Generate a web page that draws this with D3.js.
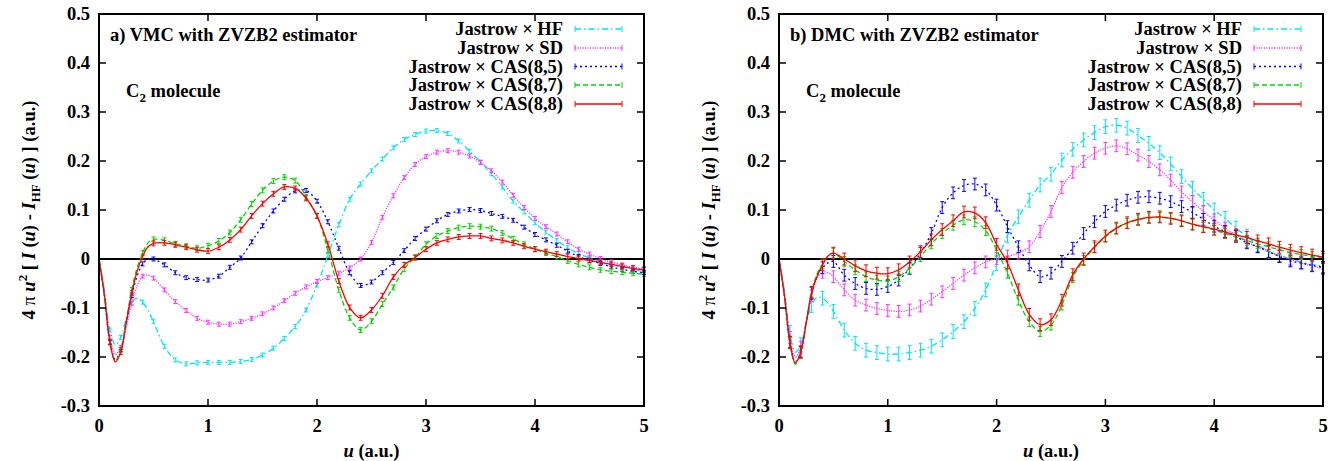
<!DOCTYPE html>
<html><head><meta charset="utf-8">
<script src="https://cdn.jsdelivr.net/npm/d3@7"></script>
<style>
body{margin:0;background:#fff}
svg text{font-family:"Liberation Serif","DejaVu Serif",serif;font-weight:bold;fill:#000}
</style></head><body>
<svg id="chart" width="1337" height="461" font-family="Liberation Serif, DejaVu Serif, serif"></svg>
<script>
const uValues = [0,0.05,0.1,0.15,0.2,0.25,0.3,0.35,0.4,0.45,0.5,
 0.6,0.7,0.8,0.9,1.0,1.1,1.2,1.3,1.4,1.5,1.6,1.7,1.8,1.9,2.0,2.1,2.2,2.3,2.4,2.5,
 2.6,2.7,2.8,2.9,3.0,3.1,3.2,3.3,3.4,3.5,3.6,3.7,3.8,3.9,4.0,4.1,4.2,4.3,4.4,4.5,
 4.6,4.7,4.8,4.9,5.0];

const seriesNames = ["Jastrow \u00d7 HF","Jastrow \u00d7 SD","Jastrow \u00d7 CAS(8,5)","Jastrow \u00d7 CAS(8,7)","Jastrow \u00d7 CAS(8,8)"];
const panelTitles = ["a) VMC with ZVZB2 estimator","b) DMC with ZVZB2 estimator"];
const xTicks = [0,1,2,3,4,5];
const xTickLabels = ["0","1","2","3","4","5"];
const yTicks = [-0.3,-0.2,-0.1,0,0.1,0.2,0.3,0.4,0.5];
const yTickLabels = ["-0.3","-0.2","-0.1","0","0.1","0.2","0.3","0.4","0.5"];

// VMC panel
const vmcHF = [0,-0.065,-0.145,-0.175,-0.16,-0.12,-0.09,-0.08,-0.088,-0.105,-0.128,
 -0.178,-0.206,-0.214,-0.212,-0.211,-0.211,-0.211,-0.209,-0.205,-0.196,-0.182,-0.162,-0.138,-0.104,-0.053,
 0.007,0.070,0.122,0.153,0.180,0.204,0.227,0.244,0.254,0.261,0.262,0.256,0.241,0.220,0.198,
 0.174,0.147,0.118,0.096,0.074,0.055,0.038,0.023,0.011,0.002,-0.005,-0.011,-0.016,-0.021,-0.025];
const vmcSD = [0,-0.07,-0.16,-0.195,-0.18,-0.14,-0.09,-0.055,-0.035,-0.033,-0.039,
 -0.063,-0.087,-0.105,-0.121,-0.129,-0.133,-0.133,-0.128,-0.121,-0.112,-0.100,-0.085,-0.070,-0.057,-0.046,
 -0.038,-0.029,-0.018,0.000,0.034,0.085,0.129,0.166,0.193,0.209,0.218,0.221,0.218,0.210,0.197,
 0.180,0.157,0.130,0.105,0.083,0.066,0.051,0.035,0.020,0.010,0.001,-0.006,-0.012,-0.017,-0.020];
const vmcCAS85 = [0,-0.075,-0.17,-0.205,-0.185,-0.13,-0.075,-0.035,-0.01,0.0,0.0,
 -0.012,-0.028,-0.038,-0.042,-0.043,-0.035,-0.017,0.002,0.035,0.068,0.098,0.122,0.139,0.140,0.118,
 0.076,0.022,-0.028,-0.054,-0.047,-0.028,-0.007,0.017,0.042,0.061,0.078,0.091,0.098,0.101,0.099,
 0.093,0.087,0.079,0.065,0.050,0.039,0.028,0.016,0.005,-0.003,-0.009,-0.016,-0.021,-0.025,-0.028];
const vmcCAS87 = [0,-0.075,-0.17,-0.207,-0.185,-0.125,-0.063,-0.018,0.012,0.033,0.040,
 0.038,0.031,0.026,0.022,0.027,0.037,0.054,0.080,0.112,0.140,0.159,0.167,0.160,0.127,0.088,
 0.018,-0.063,-0.120,-0.145,-0.127,-0.092,-0.058,-0.020,0.003,0.030,0.047,0.057,0.064,0.067,0.066,
 0.062,0.053,0.041,0.030,0.020,0.012,0.005,-0.004,-0.011,-0.017,-0.022,-0.025,-0.027,-0.029,-0.031];
const vmcCAS88 = [0,-0.075,-0.17,-0.21,-0.19,-0.13,-0.07,-0.025,0.005,0.025,0.032,
 0.033,0.029,0.024,0.019,0.016,0.024,0.039,0.060,0.088,0.113,0.133,0.147,0.144,0.124,0.088,
 0.030,-0.045,-0.099,-0.120,-0.104,-0.075,-0.037,-0.012,0.003,0.020,0.033,0.040,0.045,0.047,0.047,
 0.042,0.038,0.033,0.026,0.020,0.015,0.010,0.005,0.001,-0.003,-0.007,-0.011,-0.015,-0.019,-0.022];

// DMC panel
const dmcHF = [0,-0.065,-0.15,-0.19,-0.175,-0.13,-0.095,-0.078,-0.08,-0.09,-0.107,
 -0.145,-0.172,-0.186,-0.191,-0.194,-0.194,-0.191,-0.186,-0.178,-0.165,-0.148,-0.128,-0.101,-0.063,-0.009,
 0.048,0.086,0.120,0.151,0.173,0.202,0.224,0.243,0.258,0.270,0.273,0.267,0.252,0.236,0.217,
 0.194,0.168,0.144,0.122,0.100,0.083,0.063,0.046,0.029,0.016,0.007,0.000,-0.006,-0.011,-0.014];
const dmcSD = [0,-0.07,-0.16,-0.2,-0.18,-0.13,-0.075,-0.04,-0.027,-0.028,-0.036,
 -0.063,-0.084,-0.094,-0.101,-0.105,-0.107,-0.104,-0.096,-0.082,-0.067,-0.050,-0.033,-0.018,-0.006,0.001,
 0.006,0.012,0.025,0.056,0.097,0.146,0.177,0.199,0.216,0.226,0.231,0.225,0.212,0.199,0.182,
 0.161,0.137,0.117,0.097,0.080,0.063,0.049,0.035,0.025,0.015,0.007,0.000,-0.008,-0.014,-0.020];
const dmcCAS85 = [0,-0.075,-0.17,-0.21,-0.19,-0.13,-0.07,-0.035,-0.018,-0.008,-0.005,
 -0.033,-0.050,-0.060,-0.062,-0.056,-0.043,-0.019,0.012,0.052,0.105,0.135,0.150,0.153,0.141,0.110,
 0.066,0.025,-0.012,-0.036,-0.029,-0.005,0.022,0.052,0.076,0.097,0.110,0.120,0.126,0.127,0.124,
 0.117,0.107,0.095,0.081,0.067,0.056,0.046,0.033,0.025,0.015,0.005,-0.004,-0.008,-0.013,-0.017];
const dmcCAS87 = [0,-0.075,-0.17,-0.215,-0.19,-0.13,-0.068,-0.03,-0.01,0.006,0.012,
 -0.005,-0.022,-0.036,-0.043,-0.045,-0.036,-0.019,0.005,0.031,0.052,0.069,0.080,0.076,0.058,0.018,
 -0.029,-0.084,-0.128,-0.148,-0.135,-0.094,-0.038,-0.003,0.023,0.045,0.062,0.073,0.080,0.084,0.085,
 0.083,0.078,0.071,0.065,0.059,0.052,0.045,0.038,0.031,0.025,0.019,0.013,0.009,0.005,0.001];
const dmcCAS88 = [0,-0.075,-0.17,-0.212,-0.19,-0.13,-0.068,-0.035,-0.012,0.006,0.012,
 0.000,-0.014,-0.024,-0.029,-0.030,-0.022,-0.006,0.015,0.039,0.060,0.078,0.096,0.094,0.074,0.030,
 -0.008,-0.063,-0.113,-0.134,-0.124,-0.084,-0.032,0.000,0.025,0.047,0.063,0.074,0.081,0.085,0.086,
 0.083,0.078,0.071,0.066,0.061,0.055,0.049,0.044,0.037,0.031,0.024,0.018,0.013,0.008,0.004];

const vmcErrors = [0.004,0.004,0.004,0.005,0.005];
const dmcErrors = [0.014,0.012,0.012,0.010,0.012];

const colors = ["#00e6ee","#ff30ff","#0000ff","#00d800","#ff0000"];
const dashes = ["6,3,1.5,3","1.2,1.3","2,3","5,3",null];

const panels = [
  {x0:99, x1:644, title:panelTitles[0], series:[vmcHF,vmcSD,vmcCAS85,vmcCAS87,vmcCAS88], err:vmcErrors},
  {x0:779, x1:1323, title:panelTitles[1], series:[dmcHF,dmcSD,dmcCAS85,dmcCAS87,dmcCAS88], err:dmcErrors}
];
const yTop = 14, yBot = 406;
const FONT = "'Liberation Serif', 'DejaVu Serif', serif";
const svg = d3.select("#chart");

function txt(sel){ return sel.append("text").attr("font-family",FONT).attr("font-weight","bold").attr("font-size",18.5); }

panels.forEach(p => {
  const x = d3.scaleLinear().domain([0,5]).range([p.x0,p.x1]);
  const y = d3.scaleLinear().domain([-0.3,0.5]).range([yBot,yTop]);
  const g = svg.append("g");

  g.append("line").attr("x1",x(0)).attr("x2",x(5)).attr("y1",y(0)).attr("y2",y(0))
    .attr("stroke","#000").attr("stroke-width",2);

  const line = d3.line().x(d=>x(d[0])).y(d=>y(d[1])).curve(d3.curveCatmullRom.alpha(0.5));
  p.series.forEach((vals,i) => {
    const pts = uValues.map((u,k)=>[u,vals[k]]);
    const sg = g.append("g");
    sg.append("path").attr("d",line(pts)).attr("fill","none").attr("stroke",colors[i])
      .attr("stroke-width",1.3).attr("stroke-dasharray",dashes[i]);
    const e = p.err[i];
    const ebPts = pts.filter(d => Math.abs(d[0]*10 - Math.round(d[0]*10))<1e-6 && d[0]>0);
    sg.selectAll("path.eb").data(ebPts).enter().append("path").attr("class","eb")
      .attr("d", d => {
        const cx = x(d[0]), ya = y(d[1]-e), yb = y(d[1]+e);
        return `M${cx},${ya}V${yb}M${cx-2},${ya}H${cx+2}M${cx-2},${yb}H${cx+2}`;
      })
      .attr("fill","none").attr("stroke",colors[i]).attr("stroke-width",1);
  });

  g.append("rect").attr("x",x(0)).attr("y",yTop).attr("width",x(5)-x(0)).attr("height",yBot-yTop)
    .attr("fill","none").attr("stroke","#000").attr("stroke-width",2);

  const tl = 7;
  yTicks.forEach((t,i)=>{
    if (i>0 && i<yTicks.length-1) {
      g.append("line").attr("x1",x(0)).attr("x2",x(0)+tl).attr("y1",y(t)).attr("y2",y(t)).attr("stroke","#000").attr("stroke-width",1.5);
      g.append("line").attr("x1",x(5)).attr("x2",x(5)-tl).attr("y1",y(t)).attr("y2",y(t)).attr("stroke","#000").attr("stroke-width",1.5);
    }
    txt(g).attr("x",x(0)-9).attr("y",y(t)).attr("dy","0.35em").attr("text-anchor","end").text(yTickLabels[i]);
  });
  xTicks.forEach((t,i)=>{
    if (i>0 && i<xTicks.length-1) {
      g.append("line").attr("x1",x(t)).attr("x2",x(t)).attr("y1",yBot).attr("y2",yBot-tl).attr("stroke","#000").attr("stroke-width",1.5);
      g.append("line").attr("x1",x(t)).attr("x2",x(t)).attr("y1",yTop).attr("y2",yTop+tl).attr("stroke","#000").attr("stroke-width",1.5);
    }
    txt(g).attr("x",x(t)).attr("y",432).attr("text-anchor","middle").text(xTickLabels[i]);
  });

  const xl = txt(g).attr("x",(x(0)+x(5))/2).attr("y",457).attr("text-anchor","middle");
  xl.append("tspan").attr("font-style","italic").text("u");
  xl.append("tspan").text(" (a.u.)");

  const yl = txt(g).attr("transform",`translate(${x(0)-64},${(yTop+yBot)/2}) rotate(-90)`)
    .attr("text-anchor","middle");
  yl.append("tspan").text("4 ");
  yl.append("tspan").attr("font-weight","normal").text("\u03c0 ");
  yl.append("tspan").attr("font-style","italic").text("u");
  yl.append("tspan").attr("font-size",13).attr("dy",-8).text("2");
  yl.append("tspan").attr("dy",8).text(" [ ");
  yl.append("tspan").attr("font-style","italic").text("I");
  yl.append("tspan").text(" (");
  yl.append("tspan").attr("font-style","italic").text("u");
  yl.append("tspan").text(") - ");
  yl.append("tspan").attr("font-style","italic").text("I");
  yl.append("tspan").attr("font-size",13).attr("dy",5).text("HF");
  yl.append("tspan").attr("dy",-5).text(" (");
  yl.append("tspan").attr("font-style","italic").text("u");
  yl.append("tspan").text(") ] (a.u.)");

  txt(g).attr("x",x(0)+11).attr("y",41).text(p.title);
  const mol = txt(g).attr("x",x(0)+27).attr("y",97);
  mol.append("tspan").text("C");
  mol.append("tspan").attr("font-size",13).attr("dy",5).text("2");
  mol.append("tspan").attr("dy",-5).text(" molecule");

  const rows = [29,48,66.5,85,104];
  seriesNames.forEach((name,i)=>{
    const ry = rows[i];
    txt(g).attr("x",x(5)-81).attr("y",ry).attr("dy","0.35em").attr("text-anchor","end").text(name);
    const lx0 = x(5)-69, lx1 = x(5)-22;
    g.append("line").attr("x1",lx0).attr("x2",lx1).attr("y1",ry).attr("y2",ry)
      .attr("stroke",colors[i]).attr("stroke-width",1.3).attr("stroke-dasharray",dashes[i]);
    g.append("path").attr("d",`M${lx0},${ry-3}V${ry+3}M${lx1},${ry-3}V${ry+3}`)
      .attr("stroke",colors[i]).attr("stroke-width",1);
  });
});
</script>
</body></html>
